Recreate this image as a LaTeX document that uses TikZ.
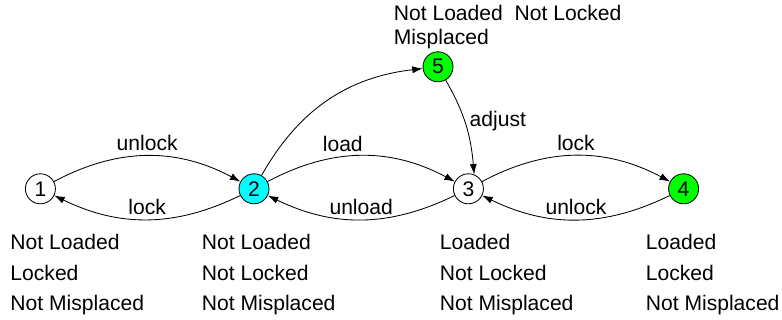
\documentclass[tikz,border=0pt]{standalone}
\usepackage{fontspec}
\setmainfont{Liberation Sans}
\usetikzlibrary{arrows.meta}

\definecolor{stcyan}{RGB}{0,255,255}
\definecolor{stgreen}{RGB}{0,255,0}

\begin{document}
\begin{tikzpicture}[
		every node/.style={font=\fontsize{15}{18}\selectfont},
		state/.style={draw, circle, line width=0.6pt, minimum size=0.75cm, inner sep=0pt},
		trans/.style={line width=0.6pt, -{Latex[length=2.6mm,width=1.8mm]}},
		descr/.style={align=left, inner sep=0pt, anchor=base west, font=\fontsize{15}{21.7}\selectfont}
	]
		%%%%% START %%%%%
		\useasboundingbox (0, 0) rectangle (19.55, 8);
		
		% states
		\node[state] (s1) at (1.01, 3.28) {1};
		\node[state, fill=stcyan] (s2) at (6.35, 3.28) {2};
		\node[state] (s3) at (11.71, 3.28) {3};
		\node[state, fill=stgreen] (s4) at (17.09, 3.28) {4};
		\node[state, fill=stgreen] (s5) at (10.95, 6.33) {5};
		
		% transitions
		\draw[trans] (s1) to[bend left=28] node[above] {unlock} (s2);
		\draw[trans] (s2) to[bend left=26] node[above] {lock} (s1);
		\draw[trans] (s2) to[bend left=28] node[above, pos=0.4] {load} (s3);
		\draw[trans] (s3) to[bend left=26] node[above] {unload} (s2);
		\draw[trans] (s3) to[bend left=28] node[above] {lock} (s4);
		\draw[trans] (s4) to[bend left=26] node[above] {unlock} (s3);
		\draw[trans] (s2) to[bend left=27] (s5);
		\draw[trans] (s5) to[out=-60, in=95] node[right, pos=0.45] {adjust} (s3.68);
		
		% what holds in each state (base anchor sits on the last line)
		\node[descr] (d1) at (0.255, 0.2325) {Not Loaded\\Locked\\Not Misplaced};
		\node[descr] (d2) at (5.04, 0.2325) {Not Loaded\\Not Locked\\Not Misplaced};
		\node[descr] (d3) at (10.99, 0.2325) {Loaded\\Not Locked\\Not Misplaced};
		\node[descr] (d4) at (16.14, 0.2325) {Loaded\\Locked\\Not Misplaced};
		\node[descr, font=\fontsize{15}{16.8}\selectfont] (d5) at (9.84, 6.8925) {Not Loaded\\Misplaced};
		\node[descr] (d5b) at (12.86, 7.4825) {Not Locked};
		
		%%%%% END %%%%%
	\end{tikzpicture}
\end{document}
